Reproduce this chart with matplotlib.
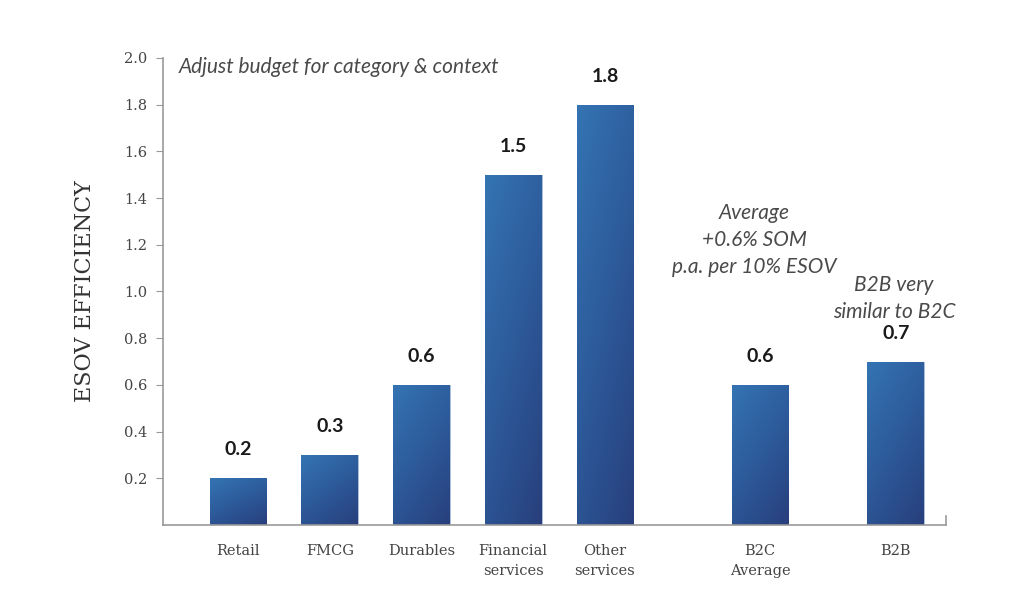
import numpy as np
import matplotlib
matplotlib.use("Agg")
import matplotlib.pyplot as plt
from matplotlib.colors import LinearSegmentedColormap

# data
categories = ["Retail", "FMCG", "Durables", "Financial\nservices", "Other\nservices",
              "B2C\nAverage", "B2B"]
values = [0.2, 0.3, 0.6, 1.5, 1.8, 0.6, 0.7]
value_labels = ["0.2", "0.3", "0.6", "1.5", "1.8", "0.6", "0.7"]
yticks = [0.2, 0.4, 0.6, 0.8, 1.0, 1.2, 1.4, 1.6, 1.8, 2.0]

# layout: first five bars evenly spaced, then a gap
xpos = list(np.arange(5)) + [5.69, 7.17]
bar_w = 0.62

fig = plt.figure(figsize=(10.24, 5.95), dpi=100)
ax = fig.add_axes([0.159, 0.1176, 0.765, 0.785])

cmap = LinearSegmentedColormap.from_list("bar", ["#3474b3", "#2d5a9a", "#283f7c"])
grad = np.add.outer(np.linspace(0, 1, 100), np.linspace(0, 0.6, 60))
grad = grad / grad.max()

for x, v, lab in zip(xpos, values, value_labels):
    bar = ax.bar(x, v, width=bar_w, color="none", edgecolor="#9bb3d3", linewidth=0.6)[0]
    im = ax.imshow(grad, cmap=cmap, aspect="auto", origin="upper",
                   extent=[x - bar_w / 2, x + bar_w / 2, 0, v], zorder=1)
    im.set_clip_path(bar)
    ax.text(x, v + 0.085, lab, ha="center", va="bottom", fontsize=14,
            fontweight="bold", family="Lato", color="#1a1a1a")

ax.set_xlim(-0.82, 7.72)
ax.set_ylim(0, 2.0)

ax.set_xticks(xpos)
ax.set_xticklabels(categories, family="DejaVu Serif", fontsize=10.5,
                   color="#444444", linespacing=1.5)
ax.tick_params(axis="x", length=0, pad=14)
ax.set_yticks(yticks)
ax.set_yticklabels([f"{t:.1f}" for t in yticks], family="DejaVu Serif",
                   fontsize=10.5, color="#444444")
ax.tick_params(axis="y", length=5, color="#999999", pad=6)

for s in ["top", "right"]:
    ax.spines[s].set_visible(False)
for s in ["left", "bottom"]:
    ax.spines[s].set_color("#999999")
    ax.spines[s].set_linewidth(1.2)
ax.plot([1, 1], [0, 0.02], transform=ax.transAxes, color="#999999",
        lw=1.2, clip_on=False)

ax.set_ylabel("ESOV EFFICIENCY", family="DejaVu Serif", fontsize=16,
              color="#333333", labelpad=20)

note = dict(family="Lato", style="italic", fontsize=15, color="#4a4a4a")
ax.text(-0.65, 1.96, "Adjust budget for category & context", ha="left",
        va="center", **note)
ax.text(5.63, 1.22, "Average\n+0.6% SOM\np.a. per 10% ESOV", ha="center",
        va="center", linespacing=1.45, **note)
ax.text(7.15, 0.97, "B2B very\nsimilar to B2C", ha="center", va="center",
        linespacing=1.45, **note)

fig.savefig("out.png", dpi=100, facecolor="white")
